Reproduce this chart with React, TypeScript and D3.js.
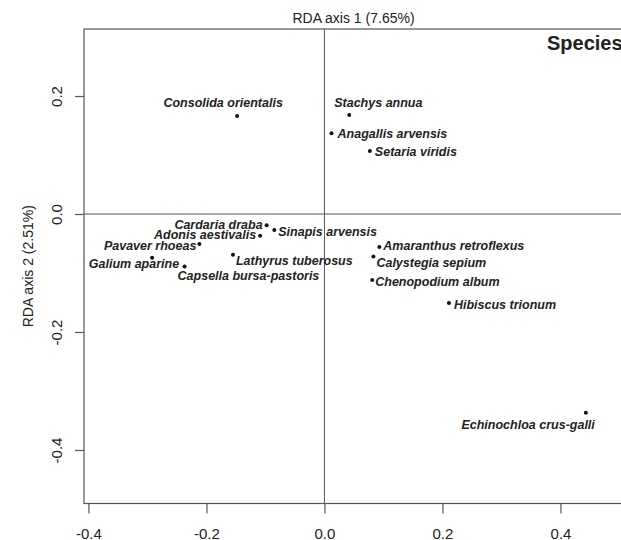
import React, { useEffect, useRef } from 'react';
import * as d3 from 'd3';

// species scores on RDA axes 1 and 2
const species = [
  'Consolida orientalis', 'Stachys annua', 'Anagallis arvensis', 'Setaria viridis',
  'Cardaria draba', 'Sinapis arvensis', 'Adonis aestivalis', 'Pavaver rhoeas',
  'Galium aparine', 'Capsella bursa-pastoris', 'Lathyrus tuberosus',
  'Amaranthus retroflexus', 'Calystegia sepium', 'Chenopodium album',
  'Hibiscus trionum', 'Echinochloa crus-galli',
];
const rda1 = [-0.148, 0.042, 0.012, 0.077, -0.098, -0.085, -0.109, -0.212,
  -0.292, -0.237, -0.155, 0.093, 0.083, 0.081, 0.211, 0.443];
const rda2 = [0.166, 0.168, 0.137, 0.107, -0.019, -0.027, -0.037, -0.051,
  -0.074, -0.089, -0.069, -0.056, -0.072, -0.112, -0.151, -0.337];

const xTicks = [-0.4, -0.2, 0.0, 0.2, 0.4];
const yTicks = [-0.4, -0.2, 0.0, 0.2];
const xLim = [-0.4075, 0.506];
const yLim = [-0.4907, 0.3136];

// label placement (anchor, dx, dy in px), like hand-tuned text positions
const labelPos: [string, number, number][] = [
  ['middle', -14, -9], ['start', -15, -8], ['start', 6, 5], ['start', 5, 5],
  ['end', -4, 4], ['start', 4, 6], ['end', -4, 3], ['end', -3, 6],
  ['end', 27, 10], ['start', -7, 13], ['start', 3, 10],
  ['start', 4, 3], ['start', 3, 11], ['start', 3, 6],
  ['start', 5, 6], ['end', 9, 16],
];

const W = 621;
const H = 540;
const margin = { left: 84, right: -2, top: 29, bottom: 36.5 };
const font = '"Liberation Sans", Arial, sans-serif';
const ink = '#222';
const lineCol = '#555';
const fmt = (d: number) => d.toFixed(1); // plain hyphen minus, like R

function RdaPlot() {
  const svgRef = useRef<SVGSVGElement>(null);

  useEffect(() => {
    const svg = d3.select(svgRef.current);
    svg.selectAll('*').remove();

    const x = d3.scaleLinear().domain(xLim).range([margin.left, W - margin.right]);
    const y = d3.scaleLinear().domain(yLim).range([H - margin.bottom, margin.top]);

    svg.append('rect').attr('width', W).attr('height', H).attr('fill', '#fff');

    // zero lines
    svg.append('line')
      .attr('x1', x(0)).attr('x2', x(0))
      .attr('y1', y(yLim[1])).attr('y2', y(yLim[0]))
      .attr('stroke', lineCol);
    svg.append('line')
      .attr('x1', x(xLim[0])).attr('x2', x(xLim[1]))
      .attr('y1', y(0)).attr('y2', y(0))
      .attr('stroke', lineCol);

    // box
    svg.append('rect')
      .attr('x', x(xLim[0])).attr('y', y(yLim[1]))
      .attr('width', x(xLim[1]) - x(xLim[0]))
      .attr('height', y(yLim[0]) - y(yLim[1]))
      .attr('fill', 'none').attr('stroke', lineCol).attr('stroke-width', 1.2);

    // x axis
    const gx = svg.append('g')
      .attr('transform', `translate(0,${y(yLim[0])})`)
      .call(d3.axisBottom(x).tickValues(xTicks).tickSize(10).tickFormat(fmt));
    gx.select('.domain').remove();
    gx.selectAll('line').attr('stroke', lineCol).attr('stroke-width', 1.2);
    gx.selectAll('text')
      .attr('font-family', font).attr('font-size', 15).attr('fill', ink)
      .attr('dy', null).attr('y', 35);

    // y axis
    const gy = svg.append('g')
      .attr('transform', `translate(${x(xLim[0])},0)`)
      .call(d3.axisLeft(y).tickValues(yTicks).tickSize(9).tickFormat(fmt));
    gy.select('.domain').remove();
    gy.selectAll('line').attr('stroke', lineCol).attr('stroke-width', 1.2);
    gy.selectAll('text')
      .attr('font-family', font).attr('font-size', 15).attr('fill', ink)
      .attr('x', null).attr('dy', null)
      .attr('text-anchor', 'middle')
      .attr('transform', 'translate(-22,0) rotate(-90)');

    // axis titles
    svg.append('text')
      .attr('x', (x(xLim[0]) + x(xLim[1])) / 2).attr('y', 23)
      .attr('text-anchor', 'middle')
      .attr('font-family', font).attr('font-size', 14).attr('fill', ink)
      .text('RDA axis 1 (7.65%)');
    svg.append('text')
      .attr('transform', `translate(33,${(y(yLim[0]) + y(yLim[1])) / 2}) rotate(-90)`)
      .attr('text-anchor', 'middle')
      .attr('font-family', font).attr('font-size', 14).attr('fill', ink)
      .text('RDA axis 2 (2.51%)');

    svg.append('text')
      .attr('x', 547).attr('y', 50)
      .attr('font-family', font).attr('font-size', 20).attr('font-weight', 'bold')
      .attr('fill', ink)
      .text('Species');

    // points
    const pts = species.map((name, i) => ({ name, a1: rda1[i], a2: rda2[i], pos: labelPos[i] }));
    const g = svg.append('g');
    g.selectAll('circle')
      .data(pts)
      .enter()
      .append('circle')
      .attr('cx', d => x(d.a1))
      .attr('cy', d => y(d.a2))
      .attr('r', 2)
      .attr('fill', '#111');

    g.selectAll('text')
      .data(pts)
      .enter()
      .append('text')
      .attr('x', d => x(d.a1) + d.pos[1])
      .attr('y', d => y(d.a2) + d.pos[2])
      .attr('text-anchor', d => d.pos[0])
      .attr('font-family', font)
      .attr('font-size', 12.5)
      .attr('font-weight', 'bold')
      .attr('font-style', 'italic')
      .attr('fill', ink)
      .text(d => d.name);
  }, []);

  return <svg ref={svgRef} width={W} height={H} style={{ position: 'absolute', left: 0, top: 0 }}></svg>;
}

export default function App() {
  return <RdaPlot />;
}
